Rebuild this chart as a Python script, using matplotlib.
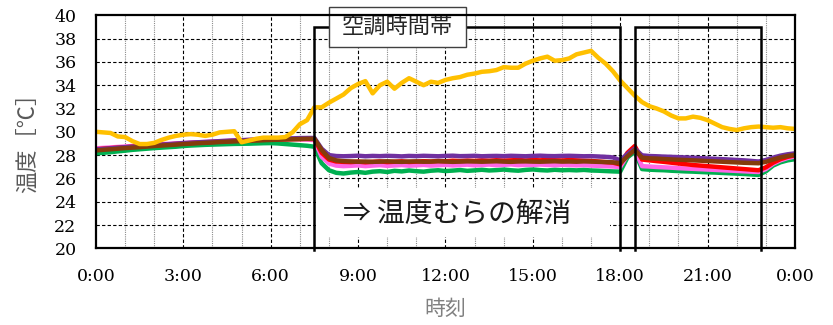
import numpy as np
import matplotlib
matplotlib.use("Agg")
import matplotlib.pyplot as plt
from matplotlib.patches import Rectangle

plt.rcParams['font.family'] = ['Noto Sans CJK JP', 'DejaVu Sans']

# time axis: 15-minute readings over one day (hours)
hours = np.arange(0, 24.001, 0.25)

outdoor = [
    30.00, 29.95, 29.90, 29.60, 29.55, 29.20, 28.95, 28.95,
    29.05, 29.30, 29.50, 29.65, 29.75, 29.80, 29.75, 29.65,
    29.75, 29.95, 30.00, 30.05, 29.10, 29.25, 29.40, 29.50,
    29.50, 29.50, 29.55, 29.95, 30.65, 31.00, 32.10, 32.10,
    32.50, 32.85, 33.20, 33.75, 34.10, 34.35, 33.30, 34.00,
    34.30, 33.70, 34.20, 34.60, 34.30, 34.00, 34.30, 34.20,
    34.45, 34.60, 34.70, 34.90, 35.00, 35.15, 35.20, 35.30,
    35.55, 35.50, 35.50, 35.85, 36.10, 36.30, 36.45, 36.10,
    36.15, 36.30, 36.65, 36.80, 36.95, 36.35, 35.85, 35.20,
    34.40, 33.75, 33.10, 32.55, 32.20, 32.00, 31.75, 31.40,
    31.15, 31.15, 31.30, 31.20, 31.00, 30.70, 30.40, 30.25,
    30.15, 30.30, 30.40, 30.45, 30.40, 30.35, 30.40, 30.30,
    30.25]

brown = [
    28.40, 28.45, 28.50, 28.55, 28.60, 28.64, 28.68, 28.73,
    28.78, 28.82, 28.86, 28.90, 28.95, 28.98, 29.02, 29.05,
    29.08, 29.12, 29.15, 29.18, 29.20, 29.23, 29.26, 29.28,
    29.30, 29.32, 29.34, 29.36, 29.38, 29.40, 29.40, 28.45,
    27.75, 27.55, 27.48, 27.46, 27.43, 27.45, 27.42, 27.44,
    27.47, 27.44, 27.42, 27.45, 27.46, 27.43, 27.44, 27.47,
    27.45, 27.42, 27.44, 27.46, 27.45, 27.43, 27.45, 27.47,
    27.44, 27.42, 27.45, 27.46, 27.44, 27.43, 27.45, 27.47,
    27.44, 27.45, 27.43, 27.46, 27.44, 27.42, 27.40, 27.38,
    27.30, 27.90, 28.45, 27.78, 27.72, 27.70, 27.66, 27.63,
    27.60, 27.58, 27.55, 27.52, 27.49, 27.46, 27.43, 27.40,
    27.37, 27.34, 27.32, 27.30, 27.42, 27.62, 27.80, 27.93,
    28.02]

purple = [
    28.48, 28.53, 28.58, 28.63, 28.68, 28.72, 28.76, 28.81,
    28.86, 28.90, 28.94, 28.98, 29.03, 29.06, 29.10, 29.13,
    29.16, 29.20, 29.23, 29.26, 29.28, 29.31, 29.34, 29.36,
    29.38, 29.40, 29.42, 29.44, 29.46, 29.47, 29.47, 28.55,
    28.00, 27.92, 27.90, 27.92, 27.95, 27.90, 27.93, 27.91,
    27.94, 27.92, 27.89, 27.93, 27.91, 27.94, 27.92, 27.90,
    27.93, 27.95, 27.91, 27.92, 27.94, 27.90, 27.92, 27.93,
    27.91, 27.94, 27.92, 27.90, 27.93, 27.95, 27.92, 27.91,
    27.93, 27.94, 27.92, 27.90, 27.91, 27.88, 27.85, 27.80,
    27.55, 28.10, 28.55, 27.98, 27.92, 27.90, 27.87, 27.85,
    27.82, 27.80, 27.77, 27.74, 27.71, 27.68, 27.65, 27.62,
    27.58, 27.55, 27.50, 27.45, 27.58, 27.78, 27.95, 28.07,
    28.15]

red = [
    28.50, 28.55, 28.60, 28.64, 28.68, 28.72, 28.76, 28.80,
    28.84, 28.88, 28.92, 28.96, 29.00, 29.04, 29.07, 29.10,
    29.13, 29.16, 29.19, 29.22, 29.24, 29.27, 29.29, 29.31,
    29.33, 29.35, 29.36, 29.37, 29.38, 29.39, 29.38, 28.20,
    27.62, 27.45, 27.42, 27.40, 27.44, 27.38, 27.42, 27.46,
    27.40, 27.43, 27.47, 27.41, 27.44, 27.48, 27.45, 27.50,
    27.47, 27.52, 27.49, 27.53, 27.50, 27.55, 27.52, 27.56,
    27.53, 27.55, 27.58, 27.54, 27.57, 27.55, 27.58, 27.56,
    27.54, 27.57, 27.55, 27.52, 27.50, 27.45, 27.40, 27.35,
    27.20, 28.20, 28.78, 27.62, 27.55, 27.48, 27.42, 27.35,
    27.28, 27.22, 27.15, 27.10, 27.05, 27.00, 26.95, 26.90,
    26.85, 26.80, 26.75, 26.70, 26.95, 27.35, 27.65, 27.85,
    27.98]

pink = [
    28.58, 28.62, 28.66, 28.70, 28.74, 28.78, 28.82, 28.86,
    28.90, 28.94, 28.97, 29.00, 29.04, 29.07, 29.10, 29.13,
    29.16, 29.19, 29.22, 29.25, 29.27, 29.30, 29.32, 29.34,
    29.36, 29.37, 29.38, 29.38, 29.36, 29.33, 29.30, 27.85,
    27.28, 27.10, 27.05, 27.08, 27.12, 27.05, 27.10, 27.14,
    27.08, 27.11, 27.15, 27.09, 27.12, 27.16, 27.10, 27.13,
    27.17, 27.11, 27.14, 27.18, 27.12, 27.15, 27.19, 27.13,
    27.16, 27.20, 27.14, 27.17, 27.15, 27.19, 27.16, 27.13,
    27.17, 27.15, 27.12, 27.14, 27.10, 27.08, 27.05, 27.02,
    26.98, 28.00, 28.55, 27.05, 27.02, 26.98, 26.95, 26.92,
    26.88, 26.85, 26.82, 26.79, 26.76, 26.73, 26.70, 26.67,
    26.64, 26.61, 26.58, 26.55, 26.80, 27.25, 27.55, 27.75,
    27.88]

green = [
    28.15, 28.20, 28.25, 28.32, 28.38, 28.45, 28.50, 28.55,
    28.60, 28.64, 28.68, 28.72, 28.78, 28.82, 28.85, 28.88,
    28.90, 28.92, 28.94, 28.96, 28.97, 28.98, 29.00, 29.02,
    29.03, 29.00, 28.95, 28.90, 28.85, 28.80, 28.72, 27.30,
    26.70, 26.48, 26.42, 26.50, 26.55, 26.48, 26.58, 26.62,
    26.55, 26.65, 26.60, 26.68, 26.62, 26.58, 26.66, 26.70,
    26.63, 26.67, 26.72, 26.65, 26.69, 26.74, 26.68, 26.71,
    26.76, 26.70, 26.66, 26.73, 26.77, 26.71, 26.68, 26.74,
    26.70, 26.72, 26.69, 26.73, 26.68, 26.66, 26.63, 26.60,
    26.58, 27.80, 28.30, 26.80, 26.75, 26.72, 26.70, 26.66,
    26.63, 26.60, 26.58, 26.55, 26.52, 26.50, 26.47, 26.44,
    26.41, 26.38, 26.34, 26.30, 26.60, 27.10, 27.38, 27.55,
    27.65]

# air-conditioning periods (start, end) in hours
ac_periods = [(7.5, 18.0), (18.5, 22.83)]

xtick_pos = [0, 3, 6, 9, 12, 15, 18, 21, 24]
xtick_labels = ['0:00', '3:00', '6:00', '9:00', '12:00', '15:00', '18:00', '21:00', '0:00']

fig = plt.figure(figsize=(8.33, 3.25), dpi=100)
ax = fig.add_axes([0.1152, 0.236, 0.8391, 0.7169])

ax.set_xlim(0, 24)
ax.set_ylim(20, 40)

# grid: dashed black major lines, dotted grey hourly lines
for h in range(1, 24):
    if h % 3 == 0:
        ax.axvline(h, color='black', lw=0.8, ls=(0, (3, 2)), zorder=1)
    else:
        ax.axvline(h, color='#8c8c8c', lw=0.8, ls=(0, (1, 1)), zorder=1)
for t in range(22, 40, 2):
    ax.axhline(t, color='black', lw=0.8, ls=(0, (3, 2)), zorder=1)

series = [
    (green, '#00B050'),
    (pink, '#FF66E6'),
    (red, '#FF0000'),
    (purple, '#7030A0'),
    (brown, '#843C0C'),
    (outdoor, '#FFC000'),
]
for vals, col in series:
    ax.plot(hours, vals, color=col, lw=3.2, solid_joinstyle='round', zorder=3)

# air-conditioning frames
for start, end in ac_periods:
    ax.plot([start, start, end, end], [19.85, 39, 39, 19.85], color='black',
            lw=1.8, zorder=5, clip_on=False, solid_joinstyle='miter')

# label box for the air-conditioning period
ax.add_patch(Rectangle((8.0, 37.3), 4.7, 3.39, facecolor='white',
                       edgecolor='#404040', lw=1.0, zorder=6, clip_on=False))
ax.text(10.35, 39.0, '空調時間帯', ha='center', va='center', fontsize=16,
        color='#262626', zorder=7, clip_on=False)

# annotation with white background
ax.add_patch(Rectangle((7.56, 21.0), 10.09, 4.15, facecolor='white',
                       edgecolor='none', zorder=4))
ax.text(8.47, 22.95, '⇒ 温度むらの解消', ha='left', va='center', fontsize=20,
        color='#1a1a1a', zorder=7)

for sp in ax.spines.values():
    sp.set_linewidth(1.6)
    sp.set_color('black')
    sp.set_zorder(8)

ax.set_xticks(xtick_pos)
ax.set_xticklabels(xtick_labels)
ax.set_yticks(range(20, 41, 2))
ax.tick_params(length=0, pad=14, labelsize=12.5)
for lab in ax.get_xticklabels() + ax.get_yticklabels():
    lab.set_fontfamily('DejaVu Serif')
    lab.set_color('black')

fig.text(27 / 833, 1 - 137 / 325, '温度［℃］', rotation=90, ha='center',
         va='center', fontsize=16, color='#595959')
fig.text(445 / 833, 1 - 309 / 325, '時刻', ha='center', va='center',
         fontsize=15, color='#808080')

fig.savefig('out.png', dpi=100)
